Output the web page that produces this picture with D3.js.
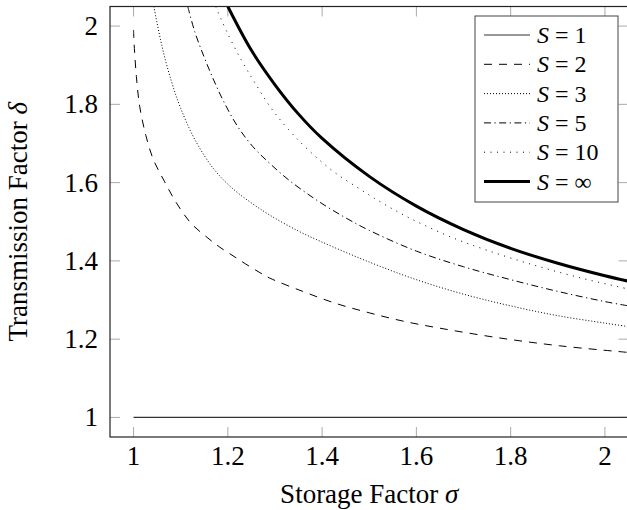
<!DOCTYPE html>
<html>
<head>
<meta charset="utf-8">
<script src="https://cdn.jsdelivr.net/npm/d3@7"></script>
<style>
  body { margin: 0; background: #fff; }
</style>
</head>
<body>
<svg id="chart" width="627" height="510"></svg>
<script>
// tick values
const sigmaTicks = [1, 1.2, 1.4, 1.6, 1.8, 2];
const deltaTicks = [1, 1.2, 1.4, 1.6, 1.8, 2];

// legend labels (value of S)
const sLabels = ["1", "2", "3", "5", "10", "\u221E"];

// S = 1
const sigmaS1 = [1, 2.05];
const deltaS1 = [1, 1];

// S = 2
const sigmaS2 = [1.0, 1.001, 1.006, 1.013, 1.026, 1.042, 1.066, 1.091, 1.122, 1.156, 1.183, 1.211, 1.238, 1.268, 1.289, 1.359, 1.43, 1.501, 1.572, 1.65, 1.777, 1.904, 2.032, 2.05];
const deltaS2 = [1.99, 1.958, 1.871, 1.795, 1.721, 1.659, 1.602, 1.548, 1.496, 1.46, 1.435, 1.413, 1.392, 1.37, 1.356, 1.322, 1.291, 1.267, 1.246, 1.228, 1.203, 1.183, 1.168, 1.166];

// S = 3
const sigmaS3 = [1.043, 1.06, 1.08, 1.1, 1.13, 1.17, 1.21, 1.25, 1.289, 1.35, 1.4, 1.5, 1.6, 1.7, 1.8, 1.9, 2.0, 2.05];
const deltaS3 = [2.05, 1.95, 1.86, 1.79, 1.71, 1.635, 1.585, 1.548, 1.517, 1.476, 1.448, 1.397, 1.352, 1.315, 1.285, 1.26, 1.241, 1.232];

// S = 5
const sigmaS5 = [1.115, 1.13, 1.15, 1.17, 1.19, 1.22, 1.253, 1.289, 1.33, 1.39, 1.45, 1.5, 1.6, 1.7, 1.8, 1.9, 2.0, 2.05];
const deltaS5 = [2.05, 1.985, 1.92, 1.862, 1.81, 1.745, 1.692, 1.649, 1.606, 1.554, 1.51, 1.478, 1.425, 1.385, 1.352, 1.322, 1.296, 1.285];

// S = 10
const sigmaS10 = [1.174, 1.2, 1.23, 1.26, 1.289, 1.324, 1.359, 1.395, 1.43, 1.473, 1.515, 1.558, 1.6, 1.671, 1.75, 1.85, 1.95, 2.05];
const deltaS10 = [2.05, 1.98, 1.91, 1.85, 1.795, 1.742, 1.697, 1.657, 1.623, 1.589, 1.557, 1.527, 1.501, 1.462, 1.427, 1.389, 1.356, 1.328];

// S = infinity
const sigmaSInf = [1.2, 1.25, 1.3, 1.35, 1.4, 1.5, 1.6, 1.7, 1.8, 1.9, 2.0, 2.05];
const deltaSInf = [2.05, 1.938, 1.85, 1.775, 1.713, 1.616, 1.54, 1.48, 1.432, 1.394, 1.362, 1.348];

const fontFamily = "'Liberation Serif', 'DejaVu Serif', 'Times New Roman', serif";

const svg = d3.select("#chart");

const plotLeft = 110, plotRight = 628.5, plotTop = 6.5, plotBottom = 437;

const x = d3.scaleLinear().domain([0.95, 2.05]).range([plotLeft, plotRight]);
const y = d3.scaleLinear().domain([0.95, 2.05]).range([plotBottom, plotTop]);

const tickColor = "#aaa";

// clip
svg.append("defs").append("clipPath")
    .attr("id", "plot-clip")
    .append("rect")
    .attr("x", plotLeft)
    .attr("y", plotTop)
    .attr("width", plotRight - plotLeft)
    .attr("height", plotBottom - plotTop);

// ticks (inside, on all four sides)
const tickLen = 10;
const gTicks = svg.append("g");
gTicks.selectAll(".xt-bottom")
    .data(sigmaTicks)
    .enter()
    .append("line")
    .attr("x1", d => x(d)).attr("x2", d => x(d))
    .attr("y1", plotBottom).attr("y2", plotBottom - tickLen)
    .attr("stroke", tickColor);
gTicks.selectAll(".xt-top")
    .data(sigmaTicks)
    .enter()
    .append("line")
    .attr("x1", d => x(d)).attr("x2", d => x(d))
    .attr("y1", plotTop).attr("y2", plotTop + tickLen)
    .attr("stroke", tickColor);
gTicks.selectAll(".yt-left")
    .data(deltaTicks)
    .enter()
    .append("line")
    .attr("y1", d => y(d)).attr("y2", d => y(d))
    .attr("x1", plotLeft).attr("x2", plotLeft + tickLen)
    .attr("stroke", tickColor);
gTicks.selectAll(".yt-right")
    .data(deltaTicks)
    .enter()
    .append("line")
    .attr("y1", d => y(d)).attr("y2", d => y(d))
    .attr("x1", plotRight).attr("x2", plotRight - tickLen)
    .attr("stroke", tickColor);

// tick labels
svg.append("g").selectAll("text")
    .data(sigmaTicks)
    .enter()
    .append("text")
    .attr("x", d => x(d))
    .attr("y", 465)
    .attr("text-anchor", "middle")
    .attr("font-family", fontFamily)
    .style("font-size", "27px")
    .text(d => d3.format("~g")(d));

svg.append("g").selectAll("text")
    .data(deltaTicks)
    .enter()
    .append("text")
    .attr("x", 98)
    .attr("y", d => y(d) + 9)
    .attr("text-anchor", "end")
    .attr("font-family", fontFamily)
    .style("font-size", "27px")
    .text(d => d3.format("~g")(d));

// series
const series = [
    { s: sLabels[0], sigma: sigmaS1, delta: deltaS1, dash: null, width: 1.2, color: "#333" },
    { s: sLabels[1], sigma: sigmaS2, delta: deltaS2, dash: "8,7", width: 1, color: "#000" },
    { s: sLabels[2], sigma: sigmaS3, delta: deltaS3, dash: "1,2", width: 1, color: "#000" },
    { s: sLabels[3], sigma: sigmaS5, delta: deltaS5, dash: "7,3.5,1.2,3.5", width: 1, color: "#000" },
    { s: sLabels[4], sigma: sigmaS10, delta: deltaS10, dash: "1,5.5", width: 1, color: "#000" },
    { s: sLabels[5], sigma: sigmaSInf, delta: deltaSInf, dash: null, width: 3, color: "#000" }
];

const line = d3.line()
    .x(d => x(d[0]))
    .y(d => y(d[1]))
    .curve(d3.curveCatmullRom.alpha(0.5));

const gLines = svg.append("g").attr("clip-path", "url(#plot-clip)");
series.forEach(sr => {
    gLines.append("path")
        .datum(sr.sigma.map((v, i) => [v, sr.delta[i]]))
        .attr("d", line)
        .attr("fill", "none")
        .attr("stroke", sr.color)
        .attr("stroke-width", sr.width)
        .attr("stroke-dasharray", sr.dash);
});

// frame
svg.append("rect")
    .attr("x", plotLeft)
    .attr("y", plotTop)
    .attr("width", plotRight - plotLeft)
    .attr("height", plotBottom - plotTop)
    .attr("fill", "none")
    .attr("stroke", "#222")
    .attr("stroke-width", 1.2);

// axis labels
svg.append("text")
    .attr("x", (plotLeft + plotRight) / 2)
    .attr("y", 503)
    .attr("text-anchor", "middle")
    .attr("font-family", fontFamily)
    .style("font-size", "27px")
    .text("Storage Factor ")
    .append("tspan")
    .style("font-style", "italic")
    .text("\u03C3");

svg.append("text")
    .attr("transform", `translate(27,${(plotTop + plotBottom) / 2}) rotate(-90)`)
    .attr("text-anchor", "middle")
    .attr("font-family", fontFamily)
    .style("font-size", "27px")
    .text("Transmission Factor ")
    .append("tspan")
    .style("font-style", "italic")
    .text("\u03B4");

// legend
const legend = svg.append("g");
legend.append("rect")
    .attr("x", 475)
    .attr("y", 16)
    .attr("width", 143)
    .attr("height", 186)
    .attr("fill", "#fff")
    .attr("stroke", "#444")
    .attr("stroke-width", 1);

series.forEach((sr, i) => {
    const cy = 35 + i * 29.3;
    legend.append("line")
        .attr("x1", 484).attr("x2", 530)
        .attr("y1", cy).attr("y2", cy)
        .attr("stroke", sr.color)
        .attr("stroke-width", sr.width)
        .attr("stroke-dasharray", sr.dash);
    const t = legend.append("text")
        .attr("x", 537)
        .attr("y", cy + 8)
        .attr("font-family", fontFamily)
        .style("font-size", "24px");
    t.append("tspan").style("font-style", "italic").text("S");
    t.append("tspan").text(" = " + sr.s);
});
</script>
</body>
</html>
